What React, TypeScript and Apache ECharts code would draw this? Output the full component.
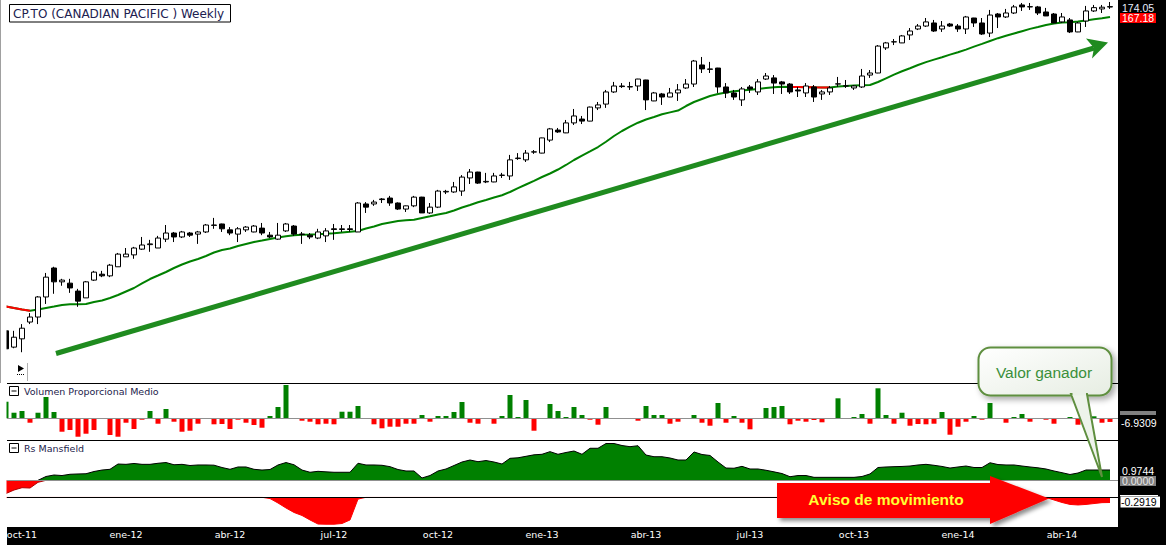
import { useEffect, useRef } from "react";
import * as echarts from "echarts";

const meses = ["ene", "feb", "mar", "abr", "may", "jun", "jul", "ago", "sep", "oct", "nov", "dic"];

// weekly bars, [open, close, low, high]
const velas: number[][] = [
  [47.2, 43.9, 43.9, 47.2], [44.2, 46.0, 44.0, 47.2], [45.7, 47.7, 43.3, 48.5], [48.9, 49.9, 48.5, 50.7],
  [49.9, 54.1, 48.5, 54.3], [54.1, 58.6, 52.6, 59.6], [60.8, 57.5, 54.8, 61.1], [57.5, 57.9, 56.6, 58.2],
  [57.2, 56.1, 55.0, 58.2], [55.4, 53.2, 52.0, 55.9], [53.9, 57.5, 53.9, 57.7], [57.9, 59.8, 57.7, 60.1],
  [59.3, 58.9, 58.6, 60.1], [58.9, 61.5, 58.6, 61.8], [61.1, 64.3, 61.1, 64.6], [63.6, 64.3, 63.6, 65.9],
  [64.1, 65.9, 63.1, 66.2], [65.6, 66.7, 65.4, 68.9], [66.8, 67.0, 64.9, 68.1], [65.9, 68.6, 65.9, 69.2],
  [68.3, 70.0, 67.5, 72.3], [70.0, 68.9, 67.5, 70.3], [68.9, 70.3, 68.6, 70.6], [70.0, 69.4, 68.9, 70.3],
  [69.7, 70.3, 67.0, 70.6], [70.3, 72.3, 70.0, 72.6], [72.3, 72.2, 71.2, 74.4], [72.6, 71.2, 70.3, 72.7],
  [70.9, 70.0, 69.4, 71.7], [69.7, 71.2, 67.5, 71.7], [70.9, 71.7, 70.3, 72.0], [70.3, 72.0, 70.2, 72.3],
  [71.4, 70.0, 69.4, 72.9], [69.4, 68.9, 68.6, 70.3], [68.3, 69.4, 68.1, 72.9], [70.6, 72.6, 70.3, 72.9],
  [72.0, 69.7, 69.2, 72.3], [69.7, 69.6, 67.0, 70.3], [69.4, 68.9, 68.3, 70.0], [68.6, 70.3, 68.3, 71.2],
  [69.2, 70.6, 67.5, 71.4], [71.2, 71.0, 68.1, 72.6], [71.0, 71.2, 70.3, 72.3], [71.2, 71.0, 70.3, 72.3],
  [70.3, 79.0, 70.3, 79.3], [78.7, 77.7, 75.9, 79.3], [78.7, 79.3, 78.1, 80.0], [80.3, 80.1, 79.0, 80.6],
  [80.6, 79.0, 78.1, 81.3], [79.0, 77.1, 76.8, 79.2], [77.1, 78.1, 76.2, 78.2], [78.1, 80.9, 77.7, 81.3],
  [80.9, 75.9, 75.9, 81.0], [75.9, 77.7, 75.6, 79.0], [77.7, 82.9, 77.4, 83.3], [82.6, 82.8, 81.9, 83.3],
  [82.6, 84.3, 82.3, 86.0], [82.9, 87.7, 81.3, 88.4], [87.4, 89.5, 85.3, 90.6], [89.5, 85.6, 85.3, 89.6],
  [86.0, 86.2, 85.6, 89.2], [86.0, 88.1, 85.9, 89.2], [88.3, 88.4, 87.4, 89.2], [88.1, 94.0, 86.7, 95.9],
  [94.5, 94.7, 94.0, 96.6], [94.0, 96.6, 93.2, 97.8], [97.0, 97.1, 96.3, 97.8], [96.6, 102.7, 96.5, 102.8],
  [101.8, 106.5, 101.0, 106.9], [106.0, 105.2, 104.8, 106.9], [104.8, 109.1, 104.7, 110.4], [109.1, 112.2, 108.2, 115.4],
  [110.8, 109.9, 108.6, 112.2], [109.9, 116.3, 109.8, 116.5], [115.9, 117.3, 114.9, 118.7], [117.7, 123.6, 115.9, 124.6],
  [123.6, 126.6, 123.1, 128.7], [126.6, 126.3, 125.6, 128.1], [126.1, 126.3, 124.6, 128.7], [126.6, 130.2, 124.1, 130.3],
  [129.7, 119.7, 114.9, 129.8], [119.2, 123.1, 119.1, 123.6], [122.6, 121.1, 117.3, 123.1], [121.1, 123.1, 121.0, 125.6],
  [123.1, 124.6, 119.2, 127.6], [125.6, 127.6, 125.1, 130.2], [127.6, 140.0, 126.1, 140.6], [137.8, 135.6, 133.4, 142.3],
  [135.6, 135.4, 133.4, 139.5], [136.1, 126.1, 123.1, 136.2], [126.1, 123.1, 120.6, 128.1], [123.1, 121.1, 119.7, 124.6],
  [119.7, 125.1, 116.8, 126.1], [126.1, 125.1, 123.1, 127.1], [123.6, 128.7, 122.1, 130.2], [130.2, 131.8, 129.7, 133.4],
  [130.8, 128.1, 122.6, 132.3], [128.7, 127.6, 122.6, 129.2], [127.6, 123.6, 122.6, 128.1], [124.6, 124.1, 121.1, 126.1],
  [123.1, 126.6, 121.1, 128.1], [126.1, 121.1, 118.7, 127.1], [122.6, 123.6, 119.7, 124.6], [123.6, 125.6, 122.1, 126.6],
  [127.6, 127.7, 126.1, 131.3], [126.6, 126.7, 125.6, 129.7], [125.6, 126.6, 124.6, 127.1], [126.1, 131.8, 125.6, 135.6],
  [132.3, 133.4, 130.8, 135.0], [133.4, 148.7, 133.3, 149.3], [147.6, 150.6, 146.4, 151.2], [151.2, 151.3, 149.3, 153.0],
  [150.6, 154.9, 150.5, 155.5], [155.5, 158.0, 152.4, 159.9], [159.3, 161.2, 158.6, 162.5], [161.2, 163.9, 160.6, 166.5],
  [163.2, 158.0, 157.4, 165.2], [159.3, 161.2, 157.4, 164.5], [162.5, 161.2, 160.6, 163.2], [161.2, 159.3, 157.4, 162.5],
  [159.3, 167.2, 156.1, 167.9], [166.5, 163.2, 160.6, 166.6], [163.2, 156.1, 155.5, 166.5], [156.7, 168.5, 154.2, 172.0],
  [169.2, 167.2, 159.9, 169.9], [167.2, 169.9, 166.5, 172.7], [169.9, 174.1, 169.2, 175.5], [175.5, 174.1, 171.3, 176.9],
  [174.1, 174.3, 172.0, 176.9], [174.1, 169.9, 168.5, 174.8], [170.6, 167.9, 167.8, 173.4], [169.2, 163.2, 163.1, 169.9],
  [163.9, 167.2, 163.2, 169.9], [165.2, 157.4, 156.7, 166.5], [157.4, 163.2, 157.3, 163.9], [164.5, 171.3, 160.6, 174.8],
  [171.3, 173.6, 170.6, 175.5], [172.7, 173.9, 169.9, 175.5], [174.3, 174.05, 172.7, 177.6],
];

const media30 = [
  52.06, 51.74, 51.43, 51.19, 51.43, 51.74, 52.04, 52.37, 52.54, 52.56,
  52.58, 53.01, 53.33, 53.88, 54.53, 55.31, 56.09, 57.12, 58.16, 58.98,
  59.83, 60.8, 61.67, 62.42, 63.05, 63.81, 64.72, 65.37, 65.77, 66.43,
  66.97, 67.52, 67.92, 68.34, 68.75, 69.08, 69.36, 69.53, 69.58, 69.67,
  69.81, 69.95, 70.15, 70.35, 70.58, 71.29, 71.87, 72.59, 73.03, 73.48,
  73.68, 73.83, 74.37, 74.88, 75.42, 75.88, 76.65, 77.59, 78.37, 79.23,
  79.96, 80.78, 81.52, 82.59, 83.86, 85.12, 86.39, 87.73, 88.98, 90.42,
  92.08, 93.95, 95.59, 97.23, 99.0, 101.11, 103.5, 105.6, 107.45, 109.19,
  110.6, 111.73, 112.95, 113.82, 114.69, 116.79, 118.69, 120.14, 121.59, 122.58,
  123.32, 123.92, 124.37, 124.72, 125.08, 125.53, 125.94, 126.24, 126.14, 126.05,
  125.97, 125.9, 125.85, 125.82, 126.3, 126.59, 126.8, 126.95, 127.1, 128.65,
  130.59, 132.55, 134.33, 135.96, 137.77, 139.4, 140.81, 142.18, 143.67, 145.02,
  146.6, 148.33, 150.01, 151.77, 153.5, 154.98, 156.43, 157.88, 159.35, 160.58,
  161.87, 162.86, 163.45, 163.72, 164.11, 164.91, 165.71, 166.38, 167.18,
];
// stretches where the average is drawn red (falling)
const tramosRojos = [[0, 3], [98, 103]];

const volumen = [
  31.5, 10.6, 13.9, -8.4, 10.6, 40.5, 12.0, -25.5, -22.2, -35.0,
  -29.3, -22.2, 0, -31.7, -35.0, -8.4, -20.3, -2.7, 13.9, -10.3,
  17.7, -6.5, -25.5, -23.6, -10.3, 0, -11.4, -10.8, -20.3, -2.7,
  -8.4, -12.7, -17.9, 4.4, 21.5, 63.3, 0, -4.6, -6.5, -11.4,
  -10.3, -11.4, 12.5, 12.5, 23.4, 0, -11.4, -19.0, -16.0, -16.0,
  -10.3, -10.3, 6.3, -6.5, 4.4, 4.4, 12.0, 31.0, -8.4, -10.3,
  0, -10.3, 4.4, 44.3, 2.5, 34.8, -23.6, 0, 27.2, 13.9,
  2.5, 21.5, 6.3, -2.7, -12.2, 21.5, 0, 0, 0, -4.6,
  23.4, 6.3, 6.3, -10.3, -6.5, 0, 6.3, -8.4, -14.1, 29.1,
  -8.4, 4.4, -8.4, -20.9, 0, 19.6, 21.5, 23.4, -11.4, -4.6,
  -6.5, -3.2, -7.6, 0, 38.0, 0, 2.5, 8.2, -10.3, 57.0,
  6.3, -10.3, 10.6, -14.1, -10.8, -11.4, -10.3, 12.0, -31.2, -16.0,
  -6.5, 4.4, -2.7, 29.1, 0, -8.4, 2.5, 8.2, -6.5, 0,
  -2.7, -10.3, 0, 2.5, -12.2, -10.8, 3.8, -8.4, -6.9309,
];

const rsMansfield = [
  -1.25, -0.92, -0.7, -0.73, -0.19, 0.36, 0.5, 0.45, 0.57, 0.6,
  0.62, 0.83, 0.97, 1.04, 1.54, 1.51, 1.59, 1.51, 1.51, 1.61,
  1.68, 1.47, 1.51, 1.4, 1.45, 1.45, 1.43, 1.21, 1.04, 1.26,
  1.26, 1.04, 0.97, 1.02, 1.45, 1.68, 1.47, 0.97, 0.76, 0.85,
  0.8, 0.76, 0.76, 0.76, 1.61, 1.45, 1.45, 1.42, 1.29, 1.02,
  0.88, 0.88, 0.22, 0.45, 0.88, 1.07, 1.4, 1.73, 1.92, 1.76,
  1.87, 1.73, 1.54, 2.08, 2.13, 2.27, 2.41, 2.46, 2.71, 2.46,
  2.63, 2.77, 2.46, 3.03, 3.03, 3.48, 3.48, 3.29, 3.18, 3.27,
  2.39, 2.23, 2.23, 2.11, 1.92, 1.92, 2.68, 2.44, 2.35, 1.73,
  1.16, 1.14, 1.32, 1.07, 1.07, 0.95, 0.8, 0.64, 0.34, 0.45,
  0.45, 0.28, 0.28, 0.28, 0.28, 0.28, 0.28, 0.36, 0.6, 1.21,
  1.26, 1.29, 1.31, 1.35, 1.45, 1.51, 1.42, 1.31, 1.16, 1.26,
  1.35, 1.21, 1.21, 1.66, 1.49, 1.45, 1.45, 1.35, 1.26, 1.18,
  1.07, 0.88, 0.72, 0.55, 0.69, 0.9744, 0.9744, 0.9744, 0.9744,
];

const avisoMovimiento = [
  0, 0, 0, 0, 0, 0, 0, 0, 0, 0,
  0, 0, 0, 0, 0, 0, 0, 0, 0, 0,
  0, 0, 0, 0, 0, 0, 0, 0, 0, 0,
  0, 0, 0, -0.07, -0.32, -0.6, -0.85, -1.02, -1.27, -1.5,
  -1.51, -1.51, -1.47, -1.27, -0.1, 0, 0, 0, 0, 0,
  0, 0, 0, 0, 0, 0, 0, 0, 0, 0,
  0, 0, 0, 0, 0, 0, 0, 0, 0, 0,
  0, 0, 0, 0, 0, 0, 0, 0, 0, 0,
  0, 0, 0, 0, 0, 0, 0, 0, 0, 0,
  0, 0, 0, 0, 0, 0, 0, 0, 0, 0,
  0, 0, 0, 0, 0, 0, 0, 0, 0, 0,
  0, 0, 0, 0, 0, 0, 0, 0, 0, 0,
  0, 0, 0, 0, 0, 0, 0, 0, 0, 0,
  -0.01, -0.15, -0.29, -0.4, -0.43, -0.4, -0.35, -0.3, -0.2919,
];

const semanas = velas.map((_, i) => new Date(2011, 8, 23 + 7 * i));
const fechas = semanas.map((d) => `${d.getFullYear()}-${d.getMonth() + 1}-${d.getDate()}`);

const FONT = "'DejaVu Sans', Verdana, sans-serif";
const ARIAL = "'Liberation Sans', Arial, sans-serif";
const GREEN = "#008000";
const RED = "#ff0000";

export default function App() {
  const chartRef = useRef<HTMLDivElement>(null);

  useEffect(() => {
    document.body.style.margin = "0";
    if (!chartRef.current) return;
    const chart = echarts.init(chartRef.current, undefined, { renderer: "svg" });
    const n = velas.length;

    const mediaRoja = media30.map((v, i) =>
      tramosRojos.some(([a, b]) => i >= a && i <= b) ? v : null
    );
    const rsPos = rsMansfield.map((v, i) =>
      v >= 0 ? v : (rsMansfield[i + 1] ?? -1) >= 0 ? 0 : null
    );
    const rsNeg = rsMansfield.map((v, i) =>
      v < 0 ? v : (rsMansfield[i - 1] ?? 1) < 0 ? 0 : null
    );

    const esInicioTrimestre = (i: number) => {
      if (i === 0) return false;
      const m = semanas[i].getMonth();
      return m % 3 === 0 && m !== semanas[i - 1].getMonth();
    };

    const grids = [
      { left: 2, width: 1112, top: 0, height: 383 },
      { left: 2, width: 1112, top: 383.3, height: 57.4 },
      { left: 2, width: 1112, top: 440.7, height: 56.6 },
      { left: 2, width: 1112, top: 497.3, height: 29.4 },
    ];

    const xAxes = grids.map((_, g) => ({
      type: "category" as const,
      gridIndex: g,
      data: fechas,
      boundaryGap: true,
      axisLine: { show: false },
      axisTick: { show: false },
      splitLine: { show: false },
      axisLabel:
        g === 3
          ? {
              show: true,
              color: "#ffffff",
              fontFamily: FONT,
              fontSize: 9.5,
              margin: 3,
              interval: (i: number) => esInicioTrimestre(i),
              formatter: (_v: string, i: number) =>
                `${meses[semanas[i].getMonth()]}-${String(semanas[i].getFullYear()).slice(2)}`,
            }
          : { show: false },
    }));

    const hidden = {
      axisLine: { show: false },
      axisTick: { show: false },
      axisLabel: { show: false },
      splitLine: { show: false },
    };

    const yAxes = [
      { type: "log" as const, gridIndex: 0, min: 38.25, max: 179.03, ...hidden },
      { type: "value" as const, gridIndex: 1, min: -42.56, max: 66.5, ...hidden },
      { type: "value" as const, gridIndex: 2, min: -1.608, max: 3.746, ...hidden },
      { type: "value" as const, gridIndex: 3, min: -1.649, max: 0, ...hidden },
    ];

    const line = (x1: number, y1: number, x2: number, y2: number, stroke: string, lineWidth = 1) => ({
      type: "line",
      shape: { x1, y1, x2, y2 },
      style: { stroke, lineWidth },
      z: 60,
      silent: true,
    });
    const text = (x: number, y: number, t: string, fill: string, font: string, align = "left") => ({
      type: "text",
      x,
      y,
      z: 120,
      silent: true,
      style: { text: t, fill, font, align, verticalAlign: "middle", textAlign: align, textVerticalAlign: "middle" },
    });

    const last = n - 1;
    const labelFont = `10.5px ${ARIAL}`;

    const graphic: any[] = [
      // left edge cover
      { type: "rect", shape: { x: 0, y: 0, width: 6.5, height: 526.7 }, style: { fill: "#ffffff" }, z: 50, silent: true },
      line(0.5, 0, 0.5, 383, "#a0a0a0"),
      // panel separators and zero lines
      line(7, 383.5, 1118, 383.5, "#000000"),
      line(7, 418.5, 1118, 418.5, "#909090"),
      line(7, 440.5, 1118, 440.5, "#000000"),
      line(7, 480.5, 1118, 480.5, "#909090"),
      line(7, 497.5, 1118, 497.5, "#000000"),
      // small toolbar
      { type: "polygon", shape: { points: [[18, 365], [24, 368.5], [18, 372]] }, style: { fill: "#000000" }, z: 60 },
      { type: "line", shape: { x1: 17, y1: 374.5, x2: 24, y2: 374.5 }, style: { stroke: "#000", lineWidth: 1, lineDash: [1, 1] }, z: 60 },
      line(27.5, 363, 27.5, 381, "#b0b0b0"),
      // title
      { type: "rect", shape: { x: 9.5, y: 4.5, width: 221, height: 17.5 }, style: { fill: "#ffffff", stroke: "#000000", lineWidth: 1 }, z: 60 },
      text(13, 13.5, "CP.TO (CANADIAN PACIFIC ) Weekly", "#202050", `12px ${FONT}`),
      // panel titles
      { type: "rect", shape: { x: 9.5, y: 386.5, width: 9, height: 9 }, style: { fill: "#fff", stroke: "#000", lineWidth: 1 }, z: 60 },
      line(11.5, 391, 16.5, 391, "#000"),
      text(24, 391.5, "Volumen Proporcional Medio", "#1c1c4c", `9.5px ${FONT}`),
      { type: "rect", shape: { x: 9.5, y: 443.5, width: 9, height: 9 }, style: { fill: "#fff", stroke: "#000", lineWidth: 1 }, z: 60 },
      line(11.5, 448, 16.5, 448, "#000"),
      text(24, 448.5, "Rs Mansfield", "#1c1c4c", `9.5px ${FONT}`),
      // price strip labels
      text(1122, 8, velas[last][1].toFixed(2), "#e6eeff", labelFont),
      { type: "rect", shape: { x: 1120, y: 13, width: 36, height: 10 }, style: { fill: RED }, z: 110 },
      text(1122, 18.3, media30[last].toFixed(2), "#ffffff", labelFont),
      { type: "rect", shape: { x: 1120, y: 411, width: 36, height: 4 }, style: { fill: "#808080" }, z: 110 },
      text(1121, 423, volumen[last].toFixed(4), "#ffffff", labelFont),
      text(1122, 470.5, rsMansfield[last].toFixed(4), "#ffffff", labelFont),
      { type: "rect", shape: { x: 1120, y: 476, width: 36, height: 10 }, style: { fill: "#808080" }, z: 110 },
      text(1122, 481.3, (0).toFixed(4), "#e8e8e8", labelFont),
      { type: "rect", shape: { x: 1120, y: 495, width: 38, height: 1.3 }, style: { fill: "#ffffff" }, z: 110 },
      { type: "rect", shape: { x: 1120.5, y: 496.5, width: 39.5, height: 11 }, style: { fill: "#ffffff" }, z: 110 },
      text(1121, 502.3, avisoMovimiento[last].toFixed(4), "#000000", labelFont),
      // green trend arrow
      { type: "line", shape: { x1: 56, y1: 353.5, x2: 1094, y2: 48 }, style: { stroke: "#1f8b1f", lineWidth: 5, lineCap: "butt" }, z: 100 },
      {
        type: "polygon",
        shape: { points: [[1086, 38.5], [1108, 42.5], [1092, 58.5], [1094, 48]] },
        style: { fill: "#1f8b1f" },
        z: 100,
      },
      // callout
      {
        type: "rect",
        shape: { x: 978.5, y: 347.5, width: 133, height: 48, r: 12 },
        style: {
          fill: new echarts.graphic.LinearGradient(0, 0, 1, 1, [
            { offset: 0, color: "#ffffff" },
            { offset: 1, color: "#e6ede2" },
          ]),
          stroke: "#5f8f3f",
          lineWidth: 2,
          shadowBlur: 6,
          shadowOffsetX: 3,
          shadowOffsetY: 3,
          shadowColor: "rgba(0,0,0,0.35)",
        },
        z: 100,
      },
      {
        type: "polygon",
        shape: { points: [[1071, 394], [1102, 477], [1087, 394]] },
        style: { fill: "#eef3eb", stroke: "#5f8f3f", lineWidth: 2 },
        z: 101,
      },
      { type: "rect", shape: { x: 1072.5, y: 391.5, width: 13.5, height: 4 }, style: { fill: "#eaf0e7" }, z: 102 },
      text(1044, 372, "Valor ganador", "#3a8f3a", `15.5px ${ARIAL}`, "center"),
      // red warning arrow
      {
        type: "polygon",
        shape: {
          points: [[777, 483], [990, 483], [990, 476], [1049, 498.5], [990, 524], [990, 518], [777, 518]],
        },
        style: {
          fill: RED,
          shadowBlur: 4,
          shadowOffsetX: 3,
          shadowOffsetY: 3,
          shadowColor: "rgba(0,0,0,0.45)",
        },
        z: 100,
      },
      text(886, 499.5, "Aviso de movimiento", "#ffff33", `bold 15.5px ${ARIAL}`, "center"),
    ];

    const option: any = {
      animation: false,
      grid: grids,
      xAxis: xAxes,
      yAxis: yAxes,
      series: [
        {
          name: "Media",
          type: "line",
          xAxisIndex: 0,
          yAxisIndex: 0,
          data: media30,
          showSymbol: false,
          lineStyle: { color: GREEN, width: 2 },
          z: 2,
        },
        {
          name: "Media bajista",
          type: "line",
          xAxisIndex: 0,
          yAxisIndex: 0,
          data: mediaRoja,
          showSymbol: false,
          lineStyle: { color: RED, width: 2 },
          z: 2,
        },
        {
          name: "CP.TO",
          type: "candlestick",
          xAxisIndex: 0,
          yAxisIndex: 0,
          data: velas,
          barWidth: 6,
          itemStyle: {
            color: "#ffffff",
            color0: "#000000",
            borderColor: "#000000",
            borderColor0: "#000000",
            borderWidth: 1,
          },
          z: 3,
        },
        {
          name: "Volumen",
          type: "bar",
          xAxisIndex: 1,
          yAxisIndex: 1,
          data: volumen,
          barWidth: 5,
          itemStyle: { color: (p: any) => (p.value >= 0 ? GREEN : RED) },
        },
        {
          name: "Rs+",
          type: "line",
          xAxisIndex: 2,
          yAxisIndex: 2,
          data: rsPos,
          showSymbol: false,
          lineStyle: { color: "#000000", width: 1 },
          areaStyle: { color: GREEN, opacity: 1, origin: "auto" },
        },
        {
          name: "Rs-",
          type: "line",
          xAxisIndex: 2,
          yAxisIndex: 2,
          data: rsNeg,
          showSymbol: false,
          lineStyle: { color: "#b00000", width: 1 },
          areaStyle: { color: RED, opacity: 1, origin: "auto" },
        },
        {
          name: "Aviso",
          type: "line",
          xAxisIndex: 3,
          yAxisIndex: 3,
          data: avisoMovimiento,
          showSymbol: false,
          lineStyle: { color: RED, width: 1 },
          areaStyle: { color: RED, opacity: 1, origin: "end" },
        },
      ],
      graphic,
    };

    chart.setOption(option);
    return () => chart.dispose();
  }, []);

  return (
    <div style={{ position: "relative", width: 1166, height: 545, background: "#ffffff", overflow: "hidden" }}>
      <div style={{ position: "absolute", left: 1118, top: 0, width: 48, height: 545, background: "#000" }} />
      <div style={{ position: "absolute", left: 7, top: 526.7, width: 1159, height: 18.3, background: "#000" }} />
      <div ref={chartRef} style={{ position: "absolute", left: 0, top: 0, width: 1166, height: 545 }} />
    </div>
  );
}
